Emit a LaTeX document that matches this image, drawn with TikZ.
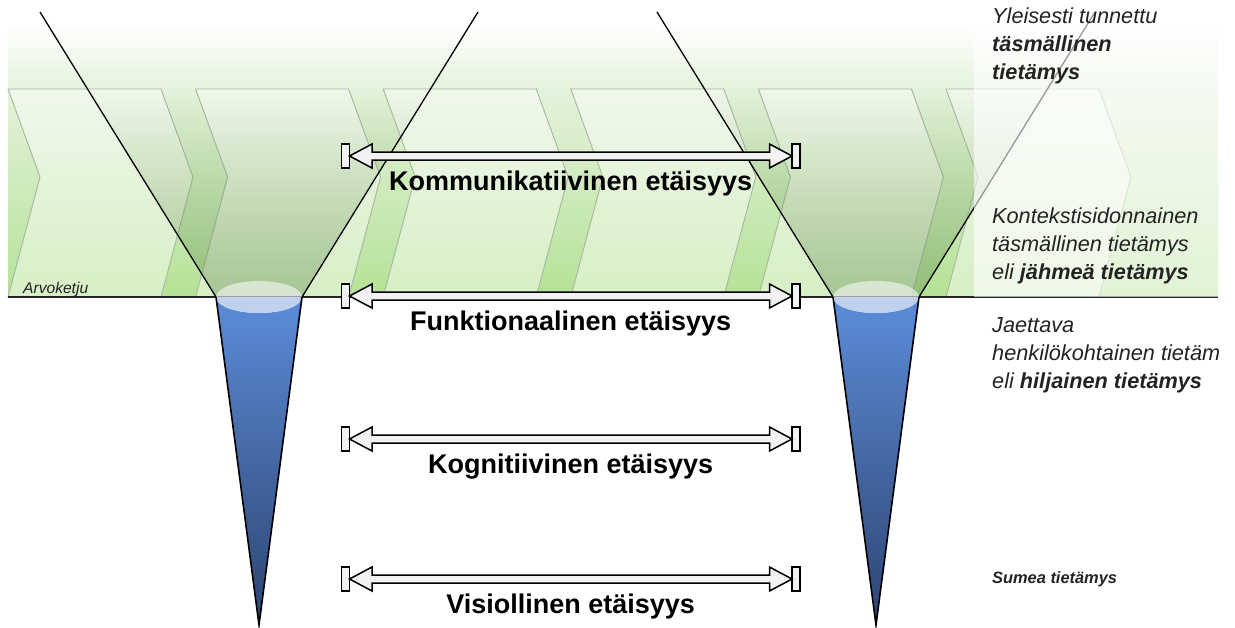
\documentclass[tikz,border=0pt]{standalone}
\usepackage{fontspec}
\setmainfont{Liberation Sans}
\usepackage{tikz}
\usetikzlibrary{fadings}
\definecolor{chaingreen}{RGB}{181,226,150}
\definecolor{chainpale}{RGB}{228,242,220}
\definecolor{chainedge}{RGB}{165,182,158}
\definecolor{funnelshade}{RGB}{100,140,80}
\definecolor{conetop}{RGB}{192,209,238}
\definecolor{coneblue}{RGB}{92,140,216}
\definecolor{conemid}{RGB}{88,132,205}
\definecolor{conedark}{RGB}{44,68,112}
\definecolor{arrfill}{RGB}{242,242,242}
\definecolor{textgray}{RGB}{35,35,35}
\tikzstyle{chevron}=[fill=white, fill opacity=0.45, draw=chainedge,
  line width=0.9pt, line join=miter]
\tikzstyle{funnel}=[draw=black, line width=1.3pt]
\tikzstyle{cone}=[draw=black, line width=1.6pt, line join=miter]
\tikzstyle{distarr}=[draw=black, line width=1.5pt, fill=arrfill, line join=miter]
\tikzstyle{distlabel}=[font=\fontsize{27}{32}\selectfont\bfseries,
  anchor=base, inner sep=0pt]
% multi-line nodes: base = baseline of the last line
\tikzstyle{knowtext}=[font=\fontsize{21.7}{28}\selectfont\itshape,
  anchor=base west, align=left, inner sep=0pt, text=textgray]

\begin{document}
\begin{tikzpicture}[x=1pt, y=-1pt]
  \useasboundingbox (0,0) rectangle (1235,627);
  \clip (0,0) rectangle (1235,627);
  % value chain band
  \shade[top color=white, bottom color=chainpale] (8,25) rectangle (1218,89);
  \shade[top color=chainpale, bottom color=chaingreen] (8,89) rectangle (1218,297);
  \foreach \i in {0,...,5} {
    \pgfmathsetmacro\x{8+187.6*\i}
    \draw[chevron] (\x,89) -- ++(153,0) -- ++(32,88) -- ++(-32,120)
      -- ++(-153,0) -- ++(32,-120) -- cycle;
  }
  \node[font=\fontsize{15.6}{18}\selectfont\itshape, anchor=base west,
    inner sep=0pt, text=textgray] (arvoketju) at (23,293) {Arvoketju};
  % funnels
  \foreach \dx in {0,617} {
    \fill[funnelshade, fill opacity=0.42, path fading=north]
      (87.5+\dx,89) -- (430.5+\dx,89) -- (302+\dx,297) -- (216+\dx,297) -- cycle;
  }
  \draw[line width=1.5pt, black!85] (8,297) -- (1218,297);
  \foreach \dx in {0,617} {
    \draw[funnel] (40+\dx,12) -- (216+\dx,297);
    \draw[funnel] (478+\dx,12) -- (302+\dx,297);
  }
  \fill[white, fill opacity=0.6] (974,0) rectangle (1218,297);
  % cones
  \foreach \cx in {259,876} {
    \shade[top color=coneblue, middle color=conemid, bottom color=conedark]
      (\cx+43,297) arc[start angle=0, end angle=180, x radius=43, y radius=16]
      -- (\cx,625) -- cycle;
    \fill[conetop] (\cx+43,297)
      arc[start angle=0, end angle=180, x radius=43, y radius=16] -- cycle;
    \fill[white, fill opacity=0.55] (\cx-43,297)
      arc[start angle=180, end angle=360, x radius=43, y radius=16] -- cycle;
    \draw[cone] (\cx-43,297) -- (\cx,625) -- (\cx+43,297);
  }
  % distance arrows
  \foreach \y/\name/\txt in {156/komm/Kommunikatiivinen etäisyys,
      296/funk/Funktionaalinen etäisyys, 439/kogn/Kognitiivinen etäisyys,
      579/visio/Visiollinen etäisyys} {
    \draw[distarr] (341.5,\y-12) rectangle (349.5,\y+12);
    \draw[distarr] (792,\y-12) rectangle (800,\y+12);
    \draw[distarr] (349.5,\y) -- (372,\y-12) -- (372,\y-4) -- (769.5,\y-4)
      -- (769.5,\y-12) -- (792,\y) -- (769.5,\y+12) -- (769.5,\y+4)
      -- (372,\y+4) -- (372,\y+12) -- cycle;
    \node[distlabel] (\name) at (570.7,\y+34) {\txt};
  }
  % knowledge levels
  \node[knowtext] (yleinen) at (992,79)
    {Yleisesti tunnettu\\ \textbf{täsmällinen}\\ \textbf{tietämys}};
  \node[knowtext] (jahmea) at (992,279)
    {Kontekstisidonnainen\\ täsmällinen tietämys\\ eli \textbf{jähmeä tietämys}};
  \node[knowtext] (hiljainen) at (992,388)
    {Jaettava\\ henkilökohtainen tietäm\\ eli \textbf{hiljainen tietämys}};
  \node[knowtext, font=\fontsize{16.4}{20}\selectfont\itshape\bfseries]
    (sumea) at (992,583) {Sumea tietämys};
\end{tikzpicture}
\end{document}
